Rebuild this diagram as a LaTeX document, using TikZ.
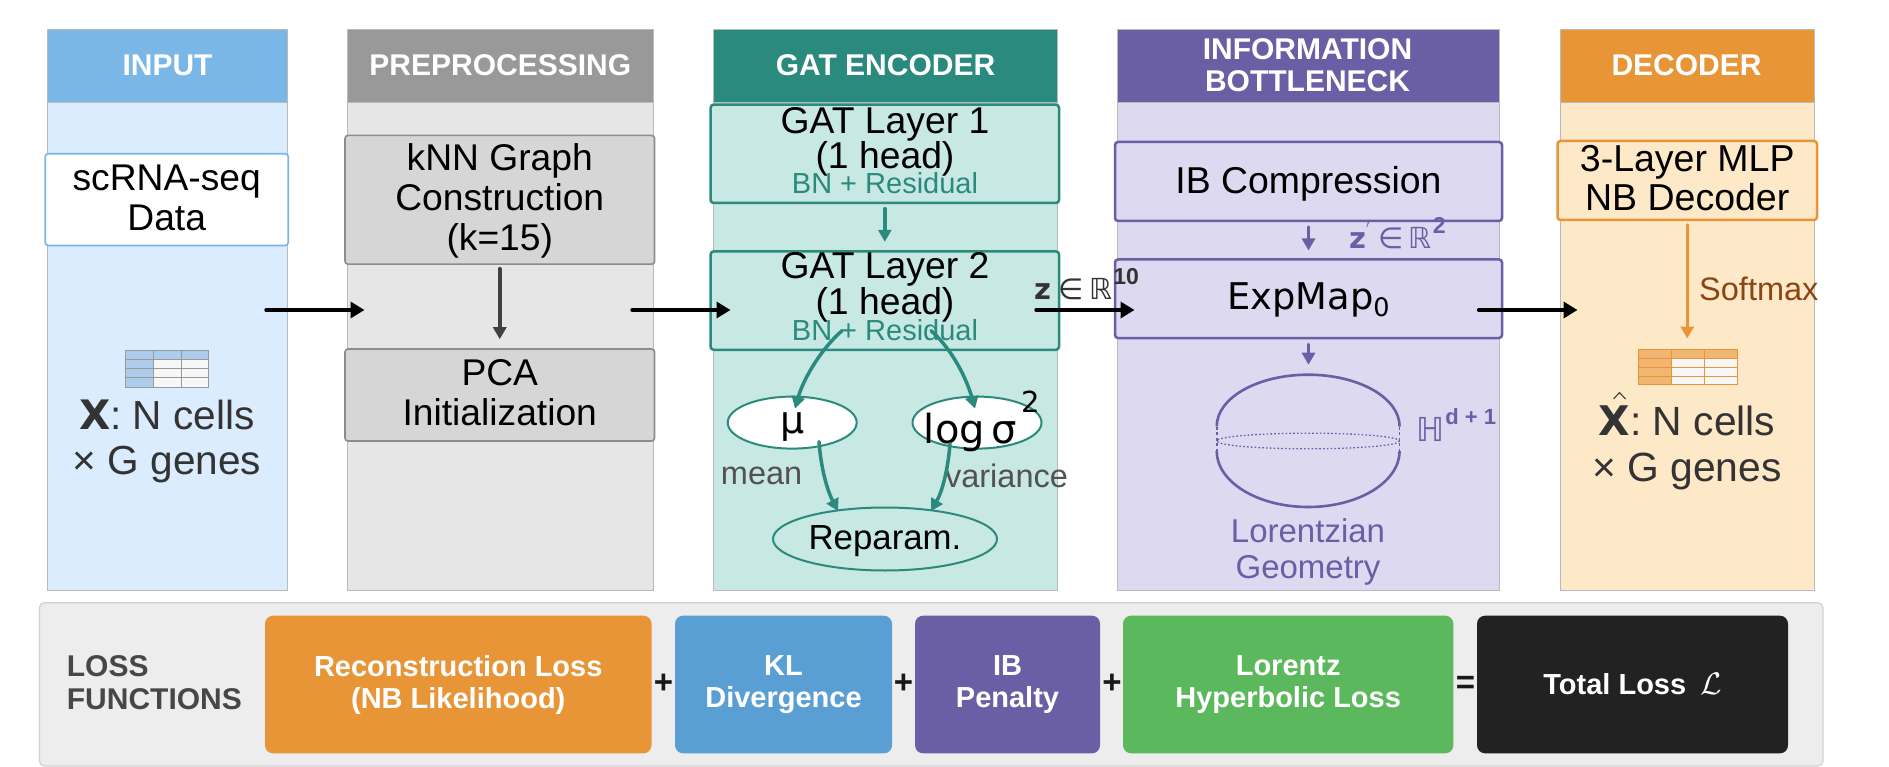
\documentclass[tikz,border=0pt]{standalone}
\usepackage{fontspec}
\setmainfont{Liberation Sans}
\newfontfamily\djv{DejaVu Sans}
\usetikzlibrary{arrows.meta,shapes.geometric}
\newcommand\fsz[2]{\fontsize{#1}{#2}\selectfont}
\definecolor{cblue}{HTML}{7AB6E6}\definecolor{lblue}{HTML}{DAECFD}
\definecolor{cgrey}{HTML}{999999}\definecolor{lgrey}{HTML}{E6E6E6}\definecolor{bgrey}{HTML}{D6D6D6}
\definecolor{cteal}{HTML}{2A8A7D}\definecolor{lteal}{HTML}{C8E8E3}
\definecolor{cpurp}{HTML}{6A5EA5}\definecolor{lpurp}{HTML}{DDD9F0}
\definecolor{corng}{HTML}{E89538}\definecolor{lorng}{HTML}{FDE8C8}
\definecolor{cgreen}{HTML}{5CB85C}\definecolor{cblack}{HTML}{222222}\definecolor{klblue}{HTML}{5A9FD4}
\definecolor{softc}{HTML}{8B4513}\definecolor{tabblue}{HTML}{AECCEB}
\tikzset{
 colbody/.style={draw=black!27,line width=1,inner sep=0,fill=#1},
 colhead/.style={draw=black!27,line width=1,inner sep=0,fill=#1,minimum height=72.7},
 headtxt/.style={inner sep=0,text=white,align=center,font=\bfseries\fsz{30}{32}},
 stepbox/.style={draw=#1,line width=2.5,rounded corners=3,inner sep=0},
 boxtxt/.style={inner sep=0,align=center,font=\fsz{37.2}{40},text=black},
 txt/.style={inner sep=0,align=center},
 flow/.style={-{Triangle[length=14,width=16]},line width=3.4,line cap=round,black},
 sub/.style={-{Triangle[length=12,width=13]},line width=#1,line cap=round},
 oval/.style={ellipse,draw=cteal,line width=2,inner sep=0},
 lossbox/.style={fill=#1,rounded corners=8,inner sep=0,align=center,text=white,
   font=\bfseries\fsz{29}{32},minimum height=137.6},
 opsym/.style={inner sep=0,font=\bfseries\fsz{33}{36},text=black!90},
 grid/.style={line width=1},
}
\begin{document}
\begin{tikzpicture}[x=1pt,y=-1pt]
\useasboundingbox (0,0) rectangle (1889,767);
% columns
\node[colbody=lblue,minimum width=240,minimum height=487.3] (colA) at (167.5,346.4) {};
\node[colhead=cblue,minimum width=240] (headA) at (167.5,66.3) {};
\node[headtxt] (headAt) at (167.5,65.3) {INPUT};
\node[colbody=lgrey,minimum width=306.6,minimum height=487.3] (colB) at (500.3,346.4) {};
\node[colhead=cgrey,minimum width=306.6] (headB) at (500.3,66.3) {};
\node[headtxt] (headBt) at (500.3,65.3) {PREPROCESSING};
\node[colbody=lteal,minimum width=344,minimum height=487.3] (colC) at (885.5,346.4) {};
\node[colhead=cteal,minimum width=344] (headC) at (885.5,66.3) {};
\node[headtxt] (headCt) at (885.5,65.3) {GAT ENCODER};
\node[colbody=lpurp,minimum width=382,minimum height=487.3] (colD) at (1308.5,346.4) {};
\node[colhead=cpurp,minimum width=382] (headD) at (1308.5,66.3) {};
\node[headtxt] (headDt) at (1307.5,65.3) {INFORMATION\\BOTTLENECK};
\node[colbody=lorng,minimum width=254,minimum height=487.3] (colE) at (1687.5,346.4) {};
\node[colhead=corng,minimum width=254] (headE) at (1687.5,66.3) {};
\node[headtxt] (headEt) at (1686.5,65.3) {DECODER};
% input
\node[stepbox=cblue,fill=white,line width=1.7,minimum width=243,minimum height=91.8] (scrna) at (166.7,199.6) {};
\node[boxtxt] (scrnat) at (166.7,197.8) {scRNA-seq\\Data};
\fill[tabblue] (125,350) rectangle (208.5,387.6);
\fill[black!3] (153.6,359.5) rectangle (208.5,387.6);
\draw[grid,draw=black!40] (125,350) rectangle (208.5,387.6) (153.6,350)--(153.6,387.6) (181.7,350)--(181.7,387.6)
  (125,359.5)--(208.5,359.5) (125,368.5)--(208.5,368.5) (125,377.8)--(208.5,377.8);
\node[txt,text=black!80,font=\fsz{40.6}{45.5}] (xlab) at (167,441.5) {{\djv\bfseries X}: N cells\\× G genes};
% preprocessing
\node[stepbox=black!45,fill=bgrey,line width=1.6,minimum width=309.5,minimum height=128.8] (knn) at (499.75,199.8) {};
\node[boxtxt] (knnt) at (499.75,200.8) {kNN Graph\\Construction\\(k=15)};
\node[stepbox=black!45,fill=bgrey,line width=1.6,minimum width=309.5,minimum height=92] (pca) at (499.75,395) {};
\node[boxtxt] (pcat) at (499.75,392.6) {PCA\\Initialization};
\draw[sub=4.4,draw=black!75,fill=black!75,shorten <=4,shorten >=9] (knn.south) -- (pca.north);
% encoder
\node[stepbox=cteal,fill=lteal,minimum width=348.4,minimum height=98.3] (gat1) at (884.8,153.85) {};
\node[stepbox=cteal,fill=lteal,minimum width=348.4,minimum height=98.3] (gat2) at (884.8,300.6) {};
\node[txt,font=\fsz{37.3}{35.5}] (g1t) at (885,141.8) {GAT Layer 1\\(1 head)};
\node[txt,font=\fsz{29}{32},text=cteal] (g1s) at (885,183.6) {BN + Residual};
\node[txt,font=\fsz{37.3}{35.5}] (g2t) at (885,287.2) {GAT Layer 2\\(1 head)};
\node[txt,font=\fsz{29}{32},text=cteal] (g2s) at (885,330.5) {BN + Residual};
\draw[sub=3.4,draw=cteal,fill=cteal,shorten <=4.4,shorten >=8.4] (gat1.south) -- (gat2.north);
\node[oval,fill=white,minimum width=129,minimum height=52] (mu) at (792.2,422.6) {};
\node[oval,fill=white,minimum width=129,minimum height=52] (lsig) at (977,422.6) {};
\node[oval,minimum width=224,minimum height=63] (rep) at (885,539) {};
\node[txt,font=\fsz{34.8}{38}] (rept) at (885,541.4) {Reparam.};
\node[txt,font=\djv\fsz{38}{40}] (mul) at (793,427) {μ};
\node[txt,anchor=base west,font=\djv\fsz{40}{42}] (lsl) at (923.7,443) {log\,σ\raisebox{31pt}{\hspace{5pt}\fsz{29}{30}2}};
\node[txt,font=\fsz{32.5}{34},text=black!68] (mean) at (761.6,476) {mean};
\node[txt,font=\fsz{32.5}{34},text=black!68] (vari) at (1006.5,476) {variance};
\coordinate (a1) at (842,330.7); \coordinate (a2) at (795,408.6);
\coordinate (b1) at (931,330.7); \coordinate (b2) at (975,408.6);
\coordinate (c1) at (819,441.6); \coordinate (c2) at (838,511);
\coordinate (d1) at (950,443.6); \coordinate (d2) at (931,511);
\draw[sub=3.5,draw=cteal] (a1) .. controls (820,350) and (803,380) .. (a2);
\draw[sub=3.5,draw=cteal] (b1) .. controls (953,350) and (967,380) .. (b2);
\draw[sub=3.5,draw=cteal] (c1) .. controls (821,470) and (828,492) .. (c2);
\draw[sub=3.5,draw=cteal] (d1) .. controls (948,470) and (942,492) .. (d2);
% bottleneck
\node[stepbox=cpurp,fill=lpurp,minimum width=387,minimum height=79] (ibc) at (1308.5,181.5) {};
\node[boxtxt,font=\fsz{37.4}{40}] (ibct) at (1308.5,183.9) {IB Compression};
\node[stepbox=cpurp,fill=lpurp,minimum width=387,minimum height=78.5] (expm) at (1308.5,298.75) {};
\node[boxtxt,font=\djv\fsz{36.8}{40}] (expt) at (1308.5,300) {ExpMap\raisebox{-7pt}{\fsz{25.5}{25}0}};
\node[txt,anchor=base west,text=black!80] (zlab) at (1034,299.6) {{\djv\bfseries\fsz{29}{30}z}\hspace{7pt}{\djv\fsz{29}{30}∈\hspace{6pt}ℝ}\raisebox{15pt}{\bfseries\fsz{23}{25}\hspace{1pt}10}};
\draw[sub=3,draw=cpurp,fill=cpurp,shorten <=4.7,shorten >=7.8] (ibc.south) -- (expm.north);
\coordinate (hyp) at (1308.5,374.7);
\draw[sub=3,draw=cpurp,fill=cpurp,shorten <=5,shorten >=10] (expm.south) -- (hyp);
\draw[cpurp,line width=2.6] (1216.7,426.5) .. controls (1216.7,397.8) and (1257.7,374.7) .. (1308.2,374.7) .. controls (1358.7,374.7) and (1399.6,397.8) .. (1399.6,426.5);
\draw[cpurp,line width=2.6] (1216.7,451) .. controls (1216.7,481.9) and (1257.7,507) .. (1308.2,507) .. controls (1358.7,507) and (1399.6,481.9) .. (1399.6,451);
\draw[cpurp,line width=1.3,dash pattern=on 1.6pt off 2.2pt] (1308.2,441) ellipse [x radius=91.4,y radius=7.8];
\draw[cpurp,line width=1.6,dash pattern=on 3pt off 2.5pt] (1216.7,426.5)--(1216.7,451) (1399.6,426.5)--(1399.6,451);
\node[txt,anchor=base west,text=cpurp] (zplab) at (1349,249) {{\djv\bfseries\fsz{29}{30}z}\raisebox{13pt}{\fsz{20}{20}$'$}\hspace{8pt}{\djv\fsz{29}{30}∈\hspace{5pt}ℝ}\raisebox{15pt}{\bfseries\fsz{23}{25}\hspace{1pt}2}};
\node[txt,anchor=base west,text=cpurp] (hlab) at (1416,441) {{\djv\fsz{33}{30}ℍ}\raisebox{17pt}{\bfseries\fsz{22}{25}\hspace{1pt}d + 1}};
\node[txt,text=cpurp,font=\fsz{33}{35.5}] (geo) at (1308,552) {Lorentzian\\Geometry};
% decoder
\node[stepbox=corng,fill=lorng,minimum width=259.5,minimum height=79] (dec) at (1687.25,180.5) {};
\node[boxtxt,font=\fsz{37.5}{39.5}] (dect) at (1687.25,178.1) {3-Layer MLP\\NB Decoder};
\coordinate (tabtop) at (1687.25,349);
\draw[sub=3.4,draw=corng,fill=corng,shorten <=3.7,shorten >=10.5] (dec.south) -- (tabtop);
\node[txt,font=\fsz{32.5}{34},text=softc,anchor=base west] (soft) at (1699,301) {Softmax};
\fill[corng!60!lorng] (1638.3,349) rectangle (1737,384.4);
\fill[black!3] (1671,358.4) rectangle (1737,384.4);
\draw[grid,draw=corng] (1638.3,349) rectangle (1737,384.4) (1671,349)--(1671,384.4) (1704,349)--(1704,384.4)
  (1638.3,358.4)--(1737,358.4) (1638.3,367)--(1737,367) (1638.3,376)--(1737,376);
\node[txt,text=black!80,font=\fsz{40.8}{46}] (xhat) at (1687,448) {{\djv\bfseries X}: N cells\\× G genes};
\draw[black!80,line width=1] (1613.5,399) -- (1619.5,392.5) -- (1625.5,399);
% flow
\coordinate (f1a) at (266,310); \coordinate (f1b) at (364.5,310);
\coordinate (f2a) at (632,310); \coordinate (f2b) at (730.5,310);
\coordinate (f3a) at (1036,310); \coordinate (f3b) at (1134.5,310);
\coordinate (f4a) at (1478.6,310); \coordinate (f4b) at (1577.5,310);
\draw[flow] (f1a) -- (f1b);
\draw[flow] (f2a) -- (f2b);
\draw[flow] (f3a) -- (f3b);
\draw[flow] (f4a) -- (f4b);
% losses
\node[draw=black!18,line width=1.2,fill=black!7,rounded corners=5,inner sep=0,minimum width=1783.6,minimum height=163.3] (panel) at (931.2,684.35) {};
\node[inner sep=0,anchor=west,align=left,text=black!72,font=\bfseries\fsz{30}{33}] (losst) at (66.7,682.5) {LOSS\\FUNCTIONS};
\node[lossbox=corng,minimum width=386.5] (l1) at (458.25,684.5) {Reconstruction Loss\\(NB Likelihood)};
\node[lossbox=klblue,minimum width=217] (l2) at (783.5,684.5) {KL\\Divergence};
\node[lossbox=cpurp,minimum width=185] (l3) at (1007.5,684.5) {IB\\Penalty};
\node[lossbox=cgreen,minimum width=330.3] (l4) at (1288.15,684.5) {Lorentz\\Hyperbolic Loss};
\node[lossbox=cblack,minimum width=311] (l5) at (1632.5,684.5) {Total Loss\hspace{14pt}\scalebox{1.25}{$\mathcal{L}$}};
\node[opsym] (p1) at (663.6,683.5) {+};
\node[opsym] (p2) at (903.6,683.5) {+};
\node[opsym] (p3) at (1112,683.5) {+};
\node[opsym] (p4) at (1465.5,684.5) {=};
\end{tikzpicture}
\end{document}
